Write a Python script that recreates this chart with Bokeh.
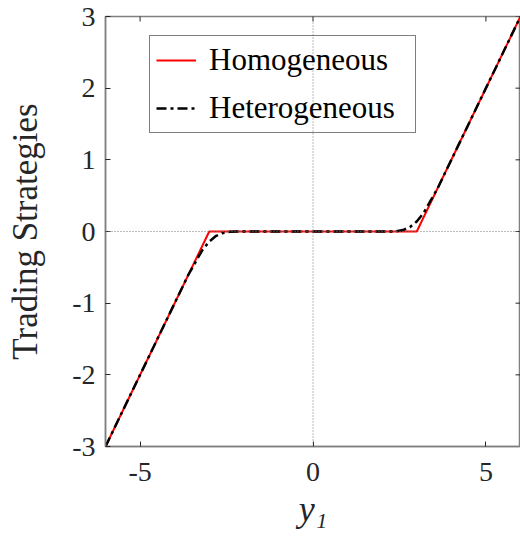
import math
from bokeh.plotting import figure
from bokeh.models import (Range1d, FixedTicker, Span, Legend, LegendItem)
from bokeh.embed import file_html
from bokeh.resources import INLINE

# ---- data ----
homo_x = [-6, -3, 3, 6]
homo_y = [-3, 0, 0, 3]
hetero_x = [-6, -5, -4, -3.6, -3.4, -3.2, -3.0, -2.8, -2.6, -2.4, -2.2, 0,
            2.2, 2.4, 2.6, 2.8, 3.0, 3.2, 3.4, 3.6, 4, 5, 6]
hetero_y = [-3, -2, -1, -0.6, -0.43, -0.26, -0.14, -0.06, -0.02, -0.003, 0, 0,
            0, 0.003, 0.02, 0.06, 0.14, 0.26, 0.43, 0.6, 1, 2, 3]
x_ticks = [-5, 0, 5]
y_ticks = [-3, -2, -1, 0, 1, 2, 3]
x_lim = (-6, 6)
y_lim = (-3, 3)
series_names = ["Homogeneous", "Heterogeneous"]
x_label = "y\u2081"
y_label = "Trading Strategies"

FONT = "Liberation Serif"
AX = "#808080"
TXT = "#262626"

p = figure(width=520, height=537, output_backend="svg", toolbar_location=None,
           x_range=Range1d(*x_lim), y_range=Range1d(*y_lim),
           min_border_left=105, min_border_right=0, min_border_top=16,
           min_border_bottom=91, background_fill_color="white",
           border_fill_color="white")
p.outline_line_color = AX
p.outline_line_width = 1.5
p.xgrid.grid_line_color = None
p.ygrid.grid_line_color = None

for ax, ticks, standoff in ((p.xaxis[0], x_ticks, 16), (p.yaxis[0], y_ticks, 10)):
    ax.ticker = FixedTicker(ticks=ticks)
    ax.major_label_overrides = {t: str(t) for t in ticks}
    ax.axis_line_color = AX
    ax.axis_line_width = 1.5
    ax.major_tick_line_color = TXT
    ax.major_tick_in = 5
    ax.major_tick_out = 0
    ax.minor_tick_line_color = None
    ax.major_label_text_font = FONT
    ax.major_label_text_font_size = "28px"
    ax.major_label_text_color = TXT
    ax.major_label_standoff = standoff

p.yaxis[0].axis_label = y_label
p.yaxis[0].axis_label_text_font = FONT
p.yaxis[0].axis_label_text_font_size = "35px"
p.yaxis[0].axis_label_text_font_style = "normal"
p.yaxis[0].axis_label_text_color = TXT
p.yaxis[0].axis_label_standoff = 24

p.xaxis[0].axis_label = x_label
p.xaxis[0].axis_label_text_font = FONT
p.xaxis[0].axis_label_text_font_size = "36px"
p.xaxis[0].axis_label_text_font_style = "italic"
p.xaxis[0].axis_label_text_color = TXT
p.xaxis[0].axis_label_standoff = 5

# mirrored ticks on top and right edges (clipped to the frame -> inward ticks)
p.scatter(x=x_ticks, y=[y_lim[1]] * len(x_ticks), marker="dash", angle=math.pi / 2,
          size=10, line_color=TXT, line_width=1)
p.scatter(x=[x_lim[1]] * len(y_ticks), y=y_ticks, marker="dash",
          size=10, line_color=TXT, line_width=1)

# dotted zero lines
p.add_layout(Span(location=0, dimension="height", line_color="#777777",
                  line_dash="1 2", line_width=1))
p.add_layout(Span(location=0, dimension="width", line_color="#777777",
                  line_dash="1 2", line_width=1))

r1 = p.line(homo_x, homo_y, line_color="red", line_width=2)
r2 = p.line(hetero_x, hetero_y, line_color="black", line_width=2.5,
            line_dash="10 4 3 4")

legend = Legend(items=[LegendItem(label=series_names[0], renderers=[r1]),
                       LegendItem(label=series_names[1], renderers=[r2])],
                location=(44, 313), background_fill_alpha=0,
                border_line_color="black", border_line_width=1,
                label_text_font=FONT, label_text_font_size="31px",
                label_text_color="black", glyph_width=40, glyph_height=30,
                label_height=30, label_standoff=13, padding=6, spacing=12,
                label_width=200, margin=0)
p.add_layout(legend, "center")

open("out.html", "w").write(file_html(p, INLINE))
